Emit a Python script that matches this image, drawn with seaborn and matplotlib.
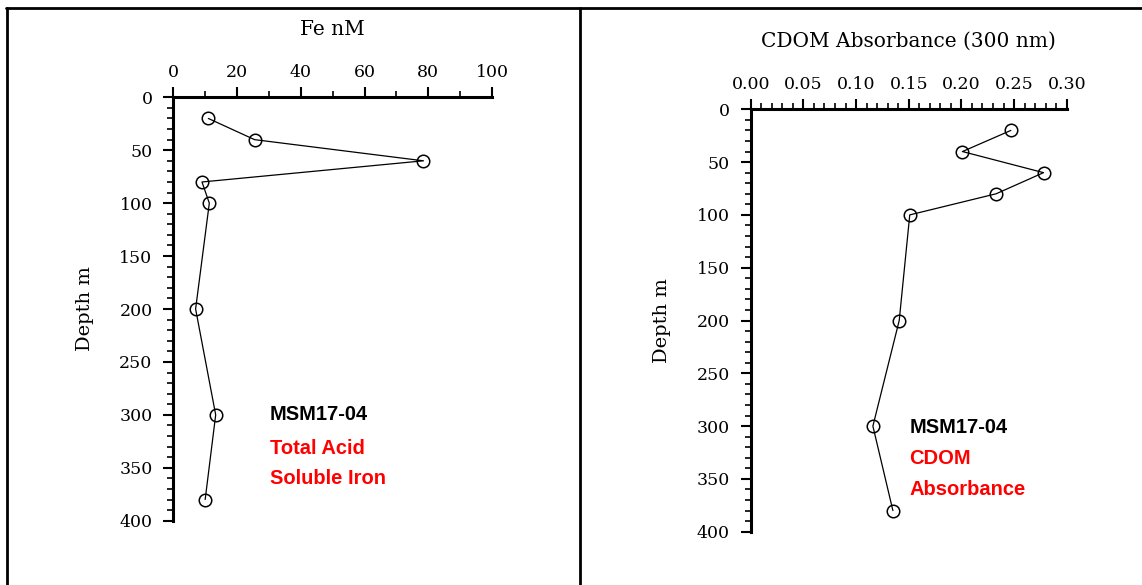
import matplotlib
matplotlib.use("Agg")
import matplotlib.pyplot as plt
from matplotlib.ticker import MultipleLocator, FormatStrFormatter
from matplotlib.lines import Line2D
import seaborn as sns
import pandas as pd

# ---- data ----
depth_m = [20, 40, 60, 80, 100, 200, 300, 380]
fe_nM = [11.0, 25.5, 78.5, 9.0, 11.3, 7.0, 13.3, 10.0]
cdom_abs = [0.247, 0.201, 0.278, 0.233, 0.151, 0.141, 0.116, 0.135]

fe_xlabel = "Fe nM"
cdom_xlabel = "CDOM Absorbance (300 nm)"
depth_label = "Depth m"
station = "MSM17-04"
fe_notes = ["Total Acid", "Soluble Iron"]
cdom_notes = ["CDOM", "Absorbance"]

fe_df = pd.DataFrame({"depth": depth_m, "value": fe_nM})
cdom_df = pd.DataFrame({"depth": depth_m, "value": cdom_abs})

sns.set_style("white")
plt.rcParams["font.family"] = ["DejaVu Serif"]
plt.rcParams["text.color"] = "black"
plt.rcParams["axes.labelcolor"] = "black"

W, H = 1142, 585
fig = plt.figure(figsize=(W / 100, H / 100), dpi=100)

def fx(px):
    return px / W

def fy(py):
    return 1 - py / H

ax1 = fig.add_axes([fx(173.3), fy(520.7), fx(492) - fx(173.3), fy(97.3) - fy(520.7)])
ax2 = fig.add_axes([fx(750.7), fy(531.7), fx(1066.7) - fx(750.7), fy(109.3) - fy(531.7)])

line_kws = dict(color="black", linewidth=0.9, marker="o", markersize=9,
                markerfacecolor="none", markeredgecolor="black", markeredgewidth=1.1)

sns.lineplot(data=fe_df, x="value", y="depth", sort=False, estimator=None, ax=ax1, **line_kws)
sns.lineplot(data=cdom_df, x="value", y="depth", sort=False, estimator=None, ax=ax2, **line_kws)

def style_axis(ax, xlim, xmaj, xmin, xfmt, xlabel):
    ax.set_xlim(*xlim)
    ax.set_ylim(400, 0)
    ax.xaxis.tick_top()
    ax.xaxis.set_label_position("top")
    ax.xaxis.set_major_locator(MultipleLocator(xmaj))
    ax.xaxis.set_minor_locator(MultipleLocator(xmin))
    ax.yaxis.set_major_locator(MultipleLocator(50))
    ax.yaxis.set_minor_locator(MultipleLocator(10))
    if xfmt:
        ax.xaxis.set_major_formatter(xfmt)
    for s in ["bottom", "right"]:
        ax.spines[s].set_visible(False)
    for s in ["top", "left"]:
        ax.spines[s].set_visible(True)
        ax.spines[s].set_linewidth(2.2)
        ax.spines[s].set_color("black")
    ax.tick_params(axis="both", which="major", direction="out", length=7, width=1.5,
                   color="black", labelsize=12.5, labelcolor="black")
    ax.tick_params(axis="both", which="minor", direction="out", length=4, width=1.2, color="black")
    ax.tick_params(axis="x", which="both", top=True, bottom=False, labeltop=True, labelbottom=False, pad=5)
    ax.tick_params(axis="y", which="both", left=True, right=False, pad=8)
    ax.set_xlabel(xlabel, fontsize=14.5, va="center", color="black")
    ax.set_ylabel(depth_label, fontsize=14, va="center", color="black")
    ax.grid(False)
    ax.set_facecolor("none")

style_axis(ax1, (0, 100), 20, 10, None, fe_xlabel)
style_axis(ax2, (0, 0.30), 0.05, 0.01, FormatStrFormatter("%.2f"), cdom_xlabel)

ax1.xaxis.set_label_coords(0.5, 1.159)
ax1.yaxis.set_label_coords(-0.277, 0.5)
ax2.xaxis.set_label_coords(0.5, 1.160)
ax2.yaxis.set_label_coords(-0.2816, 0.5)

note_kws = dict(fontsize=14.5, fontweight="bold", ha="left", va="center",
                family=["Liberation Sans", "DejaVu Sans"])
fig.text(fx(270), fy(414.7), station, color="black", **note_kws)
fig.text(fx(270), fy(448), fe_notes[0], color="#ff0000", **note_kws)
fig.text(fx(270), fy(479), fe_notes[1], color="#ff0000", **note_kws)
fig.text(fx(909.3), fy(427.3), station, color="black", **note_kws)
fig.text(fx(909.3), fy(458.3), cdom_notes[0], color="#ff0000", **note_kws)
fig.text(fx(909.3), fy(489.3), cdom_notes[1], color="#ff0000", **note_kws)

# table-like frame lines
frame_kws = dict(color="black", linewidth=2.0, transform=fig.transFigure)
fig.add_artist(Line2D([fx(6), 1.0], [fy(7.5), fy(7.5)], **frame_kws))
fig.add_artist(Line2D([fx(7), fx(7)], [0, fy(7.5)], **frame_kws))
fig.add_artist(Line2D([fx(580), fx(580)], [0, fy(7.5)], **frame_kws))

fig.savefig("out.png", dpi=100, facecolor="white")
